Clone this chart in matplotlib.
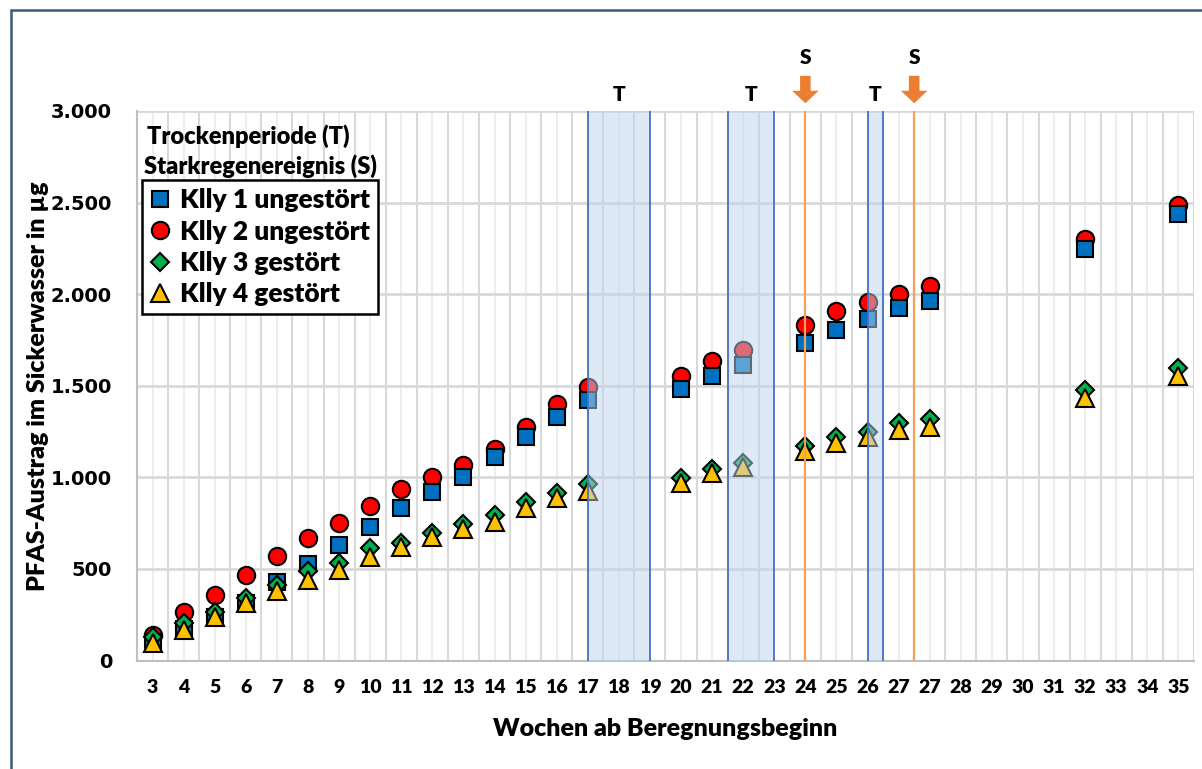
import numpy as np
import matplotlib
matplotlib.use('Agg')
import matplotlib.pyplot as plt
from matplotlib.lines import Line2D
from matplotlib.patches import Rectangle

nan = np.nan

# ---------------------- data ---------------------- #
weeks = ['3', '4', '5', '6', '7', '8', '9', '10', '11', '12', '13', '14', '15', '16', '17',
         '18', '19', '20', '21', '22', '23', '24', '25', '26', '27', '27', '28', '29', '30',
         '31', '32', '33', '34', '35']

klly1 = [103, 170, 239, 316, 430, 526, 631, 731, 835, 919, 1004, 1112, 1221, 1330, 1420,
         nan, nan, 1482, 1556, 1611, nan, 1733, 1806, 1864, 1924, 1960,
         nan, nan, nan, nan, 2247, nan, nan, 2438]
klly2 = [139, 263, 358, 467, 571, 668, 753, 844, 935, 1001, 1068, 1156, 1276, 1401, 1496,
         nan, nan, 1556, 1636, 1697, nan, 1833, 1906, 1957, 2001, 2046,
         nan, nan, nan, nan, 2303, nan, nan, 2485]
klly3 = [130, 203, 267, 341, 415, 491, 534, 613, 644, 698, 746, 795, 866, 915, 964,
         nan, nan, 997, 1046, 1079, nan, 1172, 1223, 1250, 1299, 1318,
         nan, nan, nan, nan, 1478, nan, nan, 1597]
klly4 = [94, 167, 236, 314, 381, 440, 494, 567, 622, 673, 720, 757, 833, 888, 926,
         nan, nan, 970, 1024, 1057, nan, 1146, 1187, 1223, 1259, 1277,
         nan, nan, nan, nan, 1433, nan, nan, 1551]

# dry periods (T): start/end in category positions
dry_periods = [(14, 16), (18.5, 20), (23, 23.5)]
# heavy rain events (S)
rain_events = [21, 24.5]

# ---------------------- styles ---------------------- #
BLUE = '#0070C0'
RED = '#FF0000'
GREEN = '#00B050'
YELLOW = '#FFC000'
ORANGE = '#ED7D31'
FONT = 'Lato'
W = 'heavy'

fig = plt.figure(figsize=(12.02, 7.69), dpi=100)
ax = fig.add_axes([0.114, 0.141, 0.8793, 0.7147])

x = np.arange(len(weeks))

# draw order: red first, then blue, green, yellow
ax.plot(x, klly2, 'o', ms=12.5, mfc=RED, mec='black', mew=1.5, zorder=3)
ax.plot(x, klly1, 's', ms=12, mfc=BLUE, mec='black', mew=1.5, zorder=4)
ax.plot(x, klly3, 'D', ms=9.5, mfc=GREEN, mec='black', mew=1.5, zorder=5)
ax.plot(x, klly4, '^', ms=13, mfc=YELLOW, mec='black', mew=1.5, zorder=6)

trans = ax.get_xaxis_transform()

# shaded dry periods on top of the markers
for a, b in dry_periods:
    ax.axvspan(a, b, ymin=0, ymax=1, facecolor='#BDD7EE', alpha=0.5, zorder=7, lw=0)
    ax.axvline(a, color='#4472C4', lw=1.3, zorder=8)
    ax.axvline(b, color='#4472C4', lw=1.3, zorder=8)
    ax.text((a + b) / 2, 1.03, 'T', transform=trans, ha='center',
            va='center', fontsize=15, fontweight=W, family=FONT)

for s in rain_events:
    ax.axvline(s, color='#F4A15F', lw=1.6, zorder=8)
    ax.annotate('', xy=(s, 1.014), xytext=(s, 1.064), xycoords=trans, textcoords=trans,
                arrowprops=dict(arrowstyle='simple,head_width=0.95,head_length=0.45,tail_width=0.38',
                                color=ORANGE, lw=0, mutation_scale=20, shrinkA=0, shrinkB=0),
                annotation_clip=False)
    ax.text(s, 1.097, 'S', transform=trans, ha='center', va='center',
            fontsize=15, fontweight=W, family=FONT)

# axes, grid
ax.set_xlim(-0.5, len(weeks) - 0.5)
ax.set_ylim(0, 3000)
ax.set_xticks(x)
ax.set_xticklabels(weeks, fontsize=14, fontweight=W, family=FONT)
ax.set_xticks(np.arange(len(weeks) + 1) - 0.5, minor=True)
ax.set_yticks(np.arange(0, 3001, 500))
ax.set_yticklabels(['0', '500', '1.000', '1.500', '2.000', '2.500', '3.000'],
                   fontsize=14, fontweight='bold', family='DejaVu Sans')
ax.tick_params(axis='both', which='both', length=0)
ax.tick_params(axis='x', pad=13)
ax.tick_params(axis='y', pad=18)
ax.grid(True, axis='x', which='major', color='#EEEEEE', lw=1.5, zorder=0)
ax.grid(True, axis='x', which='minor', color='#D9D9D9', lw=1.5, zorder=0)
ax.grid(True, axis='y', which='major', color='#D9D9D9', lw=2, zorder=0)
ax.set_axisbelow(True)
for side in ['top', 'right']:
    ax.spines[side].set_visible(False)
ax.spines['left'].set_color('#BFBFBF')
ax.spines['bottom'].set_color('#BFBFBF')
ax.spines['left'].set_linewidth(1.5)
ax.spines['bottom'].set_linewidth(1.5)

ax.set_xlabel('Wochen ab Beregnungsbeginn', fontsize=18, fontweight=W, family=FONT, labelpad=16)
ax.set_ylabel('PFAS-Austrag im Sickerwasser in µg', fontsize=18, fontweight=W, family=FONT)
ax.yaxis.set_label_coords(-0.083, 0.5)

# legend with its two heading lines
ax.text(0.009, 0.955, 'Trockenperiode (T)', transform=ax.transAxes, fontsize=17,
        fontweight=W, family=FONT, va='center', ha='left')
ax.text(0.007, 0.9, 'Starkregenereignis (S)', transform=ax.transAxes, fontsize=17,
        fontweight=W, family=FONT, va='center', ha='left')

handles = [
    Line2D([], [], ls='', marker='s', ms=12, mfc=BLUE, mec='black', mew=1.5),
    Line2D([], [], ls='', marker='o', ms=12.5, mfc=RED, mec='black', mew=1.5),
    Line2D([], [], ls='', marker='D', ms=9.5, mfc=GREEN, mec='black', mew=1.5),
    Line2D([], [], ls='', marker='^', ms=13, mfc=YELLOW, mec='black', mew=1.5),
]
labels = ['Klly 1 ungestört', 'Klly 2 ungestört', 'Klly 3 gestört', 'Klly 4 gestört']
leg = ax.legend(handles, labels, loc='upper left', bbox_to_anchor=(0.0045, 0.874),
                prop={'family': FONT, 'weight': W, 'size': 19}, frameon=True,
                fancybox=False, edgecolor='black', handlelength=0.8, handletextpad=0.35,
                labelspacing=0.28, borderpad=0.3, borderaxespad=0, framealpha=1)
leg.get_frame().set_linewidth(1.8)
leg.set_zorder(10)

# outer chart border (only top and left edges are visible in the image)
fig.patches.append(Rectangle((0.009, -0.2), 1.2, 1.187, transform=fig.transFigure,
                             fill=False, edgecolor='#3C5A78', lw=1.8))

fig.savefig('out.png', dpi=100)
